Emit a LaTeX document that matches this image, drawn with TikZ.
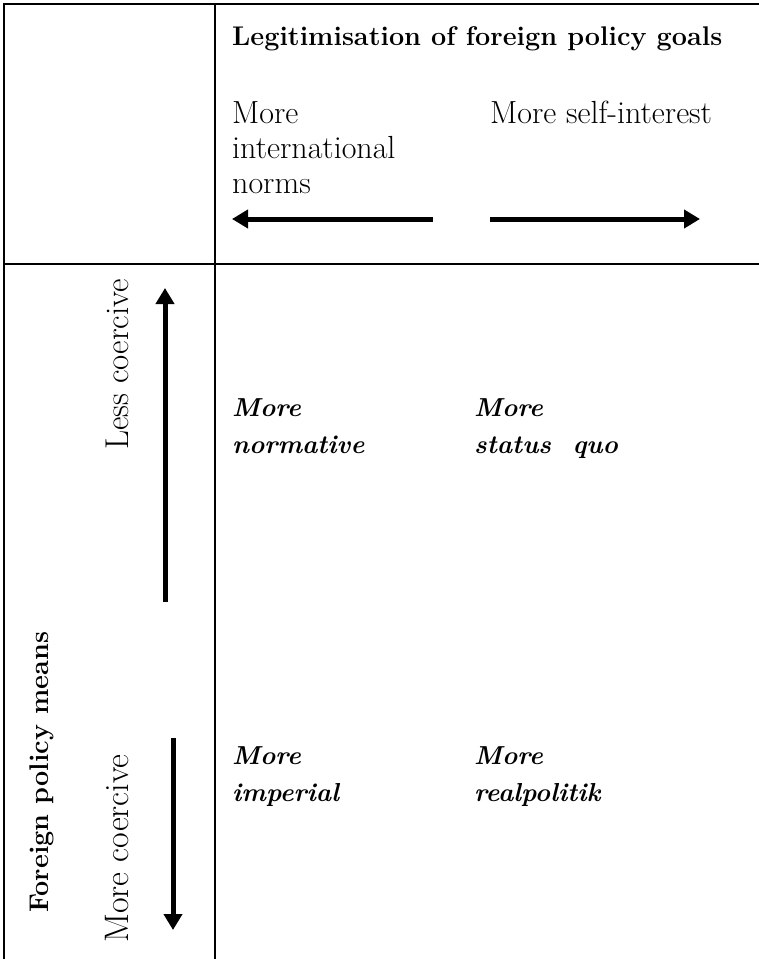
\documentclass[tikz,border=0pt]{standalone}
\usepackage{tikz}
\usetikzlibrary{arrows.meta}
\tikzstyle{rule} = [line width=2.8pt]
\tikzstyle{arrow} = [line width=5pt,->,>={Triangle[width=18pt,length=16pt]}]
\tikzstyle{goal} = [inner sep=0pt, anchor=north west, align=left, font=\fontsize{32}{35}\selectfont]
\tikzstyle{means} = [inner sep=0pt, anchor=base west, rotate=90, font=\fontsize{33}{37}\selectfont]
\tikzstyle{cell} = [inner sep=0pt, anchor=north west, align=left, font=\fontsize{26}{37}\selectfont\bfseries\itshape]

\begin{document}
\begin{tikzpicture}[x=1pt, y=-1pt]
\useasboundingbox (0,0) rectangle (759,959);
% Table rules
\draw[rule] (4,959) -- (4,4) -- (759,4);
\draw[rule] (215,4) -- (215,959);
\draw[rule] (4,264) -- (759,264);

% Goals header
\node[inner sep=0pt, anchor=base west, font=\fontsize{27}{33}\selectfont\bfseries] (goals) at (232,45) {Legitimisation of foreign policy goals};
\node[goal] (norms) at (232,101) {More\\international\\norms};
\node[goal, anchor=base west] (self) at (490,123) {More self-interest};

\coordinate (norms-tail) at (433,219);
\coordinate (norms-tip) at (232,219);
\coordinate (self-tail) at (490,219);
\coordinate (self-tip) at (700,219);
\draw[arrow] (norms-tail) -- (norms-tip);
\draw[arrow] (self-tail) -- (self-tip);

% Means column
\node[means, font=\fontsize{27}{34}\selectfont\bfseries] (means) at (48,913) {Foreign policy means};
\node[means] (less) at (128,450) {Less coercive};
\node[means, font=\fontsize{34}{37}\selectfont] (more) at (128,943) {More coercive};

\coordinate (less-tail) at (165,602);
\coordinate (less-tip) at (165,288);
\coordinate (more-tail) at (173,738);
\coordinate (more-tip) at (173,930);
\draw[arrow] (less-tail) -- (less-tip);
\draw[arrow] (more-tail) -- (more-tip);

% Cells
\node[cell] (normative) at (232,398) {More\\normative};
\node[cell] (statusquo) at (474,398) {More\\status\ \ quo};
\node[cell] (imperial) at (232,746) {More\\imperial};
\node[cell] (realpolitik) at (474,746) {More\\realpolitik};
\end{tikzpicture}
\end{document}
